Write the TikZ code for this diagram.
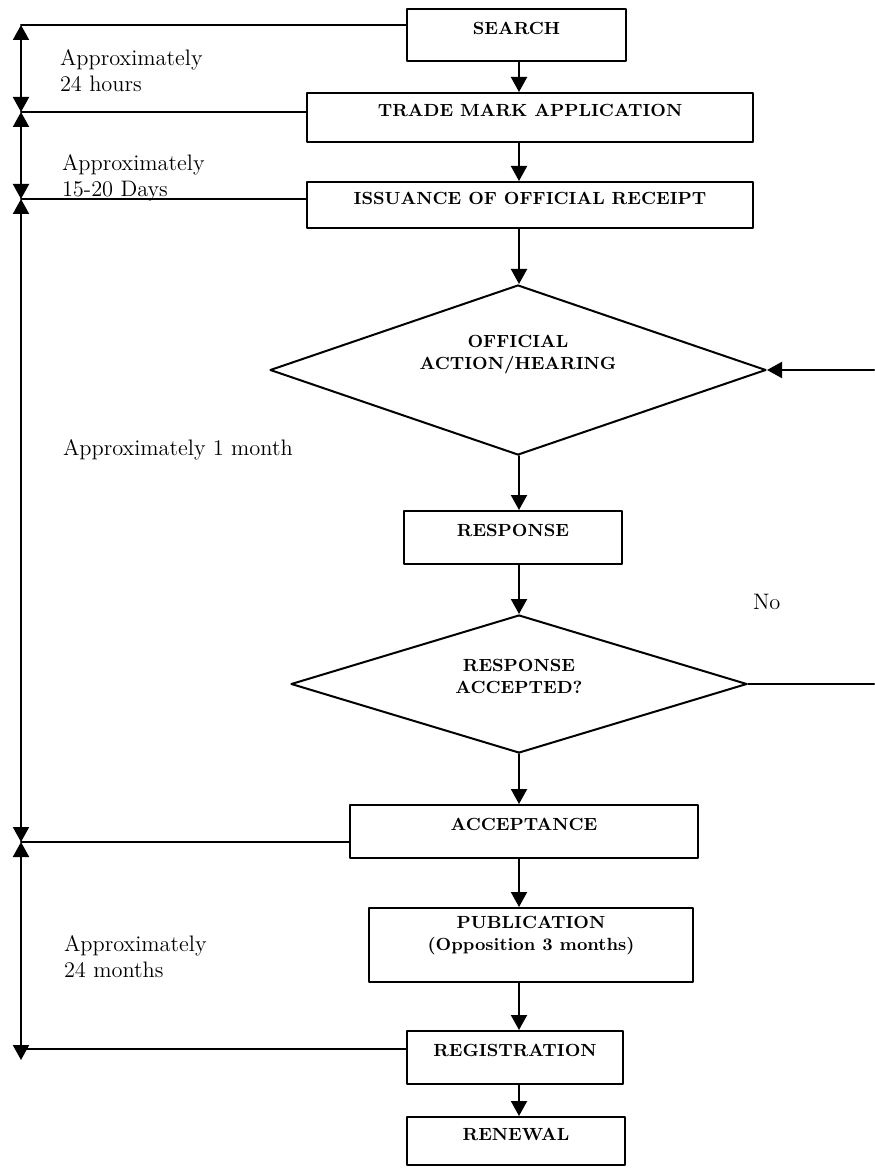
\documentclass[tikz,border=0pt]{standalone}
\usepackage{fontspec}
\usetikzlibrary{arrows.meta,shapes.geometric}

\begin{document}
\begin{tikzpicture}[line cap=round,line join=round,line width=1pt,>={Triangle[length=7.5pt,width=8pt]},x=0.5pt,y=-0.5pt,
		boxed/.style={draw,line width=1pt,inner sep=0pt,font=\fontsize{8.8}{11}\selectfont\bfseries},
		procbox/.style={boxed,text depth=7pt},
		decision/.style={draw,diamond,line width=1pt,inner sep=0pt,aspect=3,align=center,font=\fontsize{8.8}{11}\selectfont\bfseries},
		note/.style={inner sep=0pt,align=left,font=\fontsize{11.2}{13}\selectfont}]
				\useasboundingbox (0,0) rectangle (874,1171);
				\node[procbox,minimum width=109.5pt,minimum height=26pt] (search) at (516.5,35) {SEARCH};
				\node[procbox,minimum width=223pt,minimum height=24.5pt] (trade) at (530,117.5) {TRADE MARK APPLICATION};
				\node[procbox,minimum width=223pt,minimum height=23pt] (issue) at (530,205) {ISSUANCE OF OFFICIAL RECEIPT};
				\node[decision,minimum width=248pt,minimum height=85pt] (action) at (518,370) {OFFICIAL\\ACTION/HEARING\rule[-18pt]{0pt}{0pt}};
				\node[procbox,minimum width=109pt,minimum height=26.5pt] (response) at (513,537.5) {RESPONSE};
				\node[decision,minimum width=228pt,minimum height=69pt] (accepted) at (519,684) {RESPONSE\\ACCEPTED?\rule[-7.5pt]{0pt}{0pt}};
				\node[procbox,minimum width=174pt,minimum height=26.5pt] (accept) at (524,831.5) {ACCEPTANCE};
				\node[boxed,align=center,minimum width=162pt,minimum height=37pt] (publish) at (531,945) {PUBLICATION\\(Opposition 3 months)\rule[-12pt]{0pt}{0pt}};
				\node[procbox,minimum width=108pt,minimum height=26.5pt] (register) at (515,1057.5) {REGISTRATION};
				\node[procbox,minimum width=109pt,minimum height=24pt] (renew) at (516,1141) {RENEWAL};
				\node[note,anchor=north west] (hours) at (59,48.5) {Approximately\\24 hours};
				\node[note,anchor=north west] (days) at (61,153.5) {Approximately\\15-20 Days};
				\node[note,anchor=base west] (month) at (62,455) {Approximately 1 month};
				\node[note,anchor=north west] (months) at (63,934.5) {Approximately\\24 months};
				\node[note,anchor=base west] (no) at (752,609) {No};
				\coordinate (t0) at (21,25);
				\coordinate (t1) at (21,112);
				\coordinate (t2) at (21,199);
				\coordinate (t3) at (21,842);
				\coordinate (t4) at (21,1060);
				\coordinate (regline) at (21,1049);
				\coordinate (backin) at (874,370);
				\coordinate (backout) at (874,684);
				\foreach \a/\b in {t0/t1,t1/t2,t2/t3,t3/t4}
					\draw [<->] (\a) -- (\b);
				\draw (t0) -- (t0 -| search.west);
				\draw (t1) -- (t1 -| trade.west);
				\draw (t2) -- (t2 -| issue.west);
				\draw (t3) -- (t3 -| accept.west);
				\draw (regline) -- (regline -| register.west);
				\foreach \a/\b in {search/trade,trade/issue,issue/action,action/response,response/accepted,accepted/accept,accept/publish,publish/register,register/renew}
					\draw [->] (\a.south -| accepted) -- (\b.north -| accepted);
				\draw [->] (backin) -- (action.east);
				\draw (accepted.east) -- (backout);
\end{tikzpicture}
\end{document}
